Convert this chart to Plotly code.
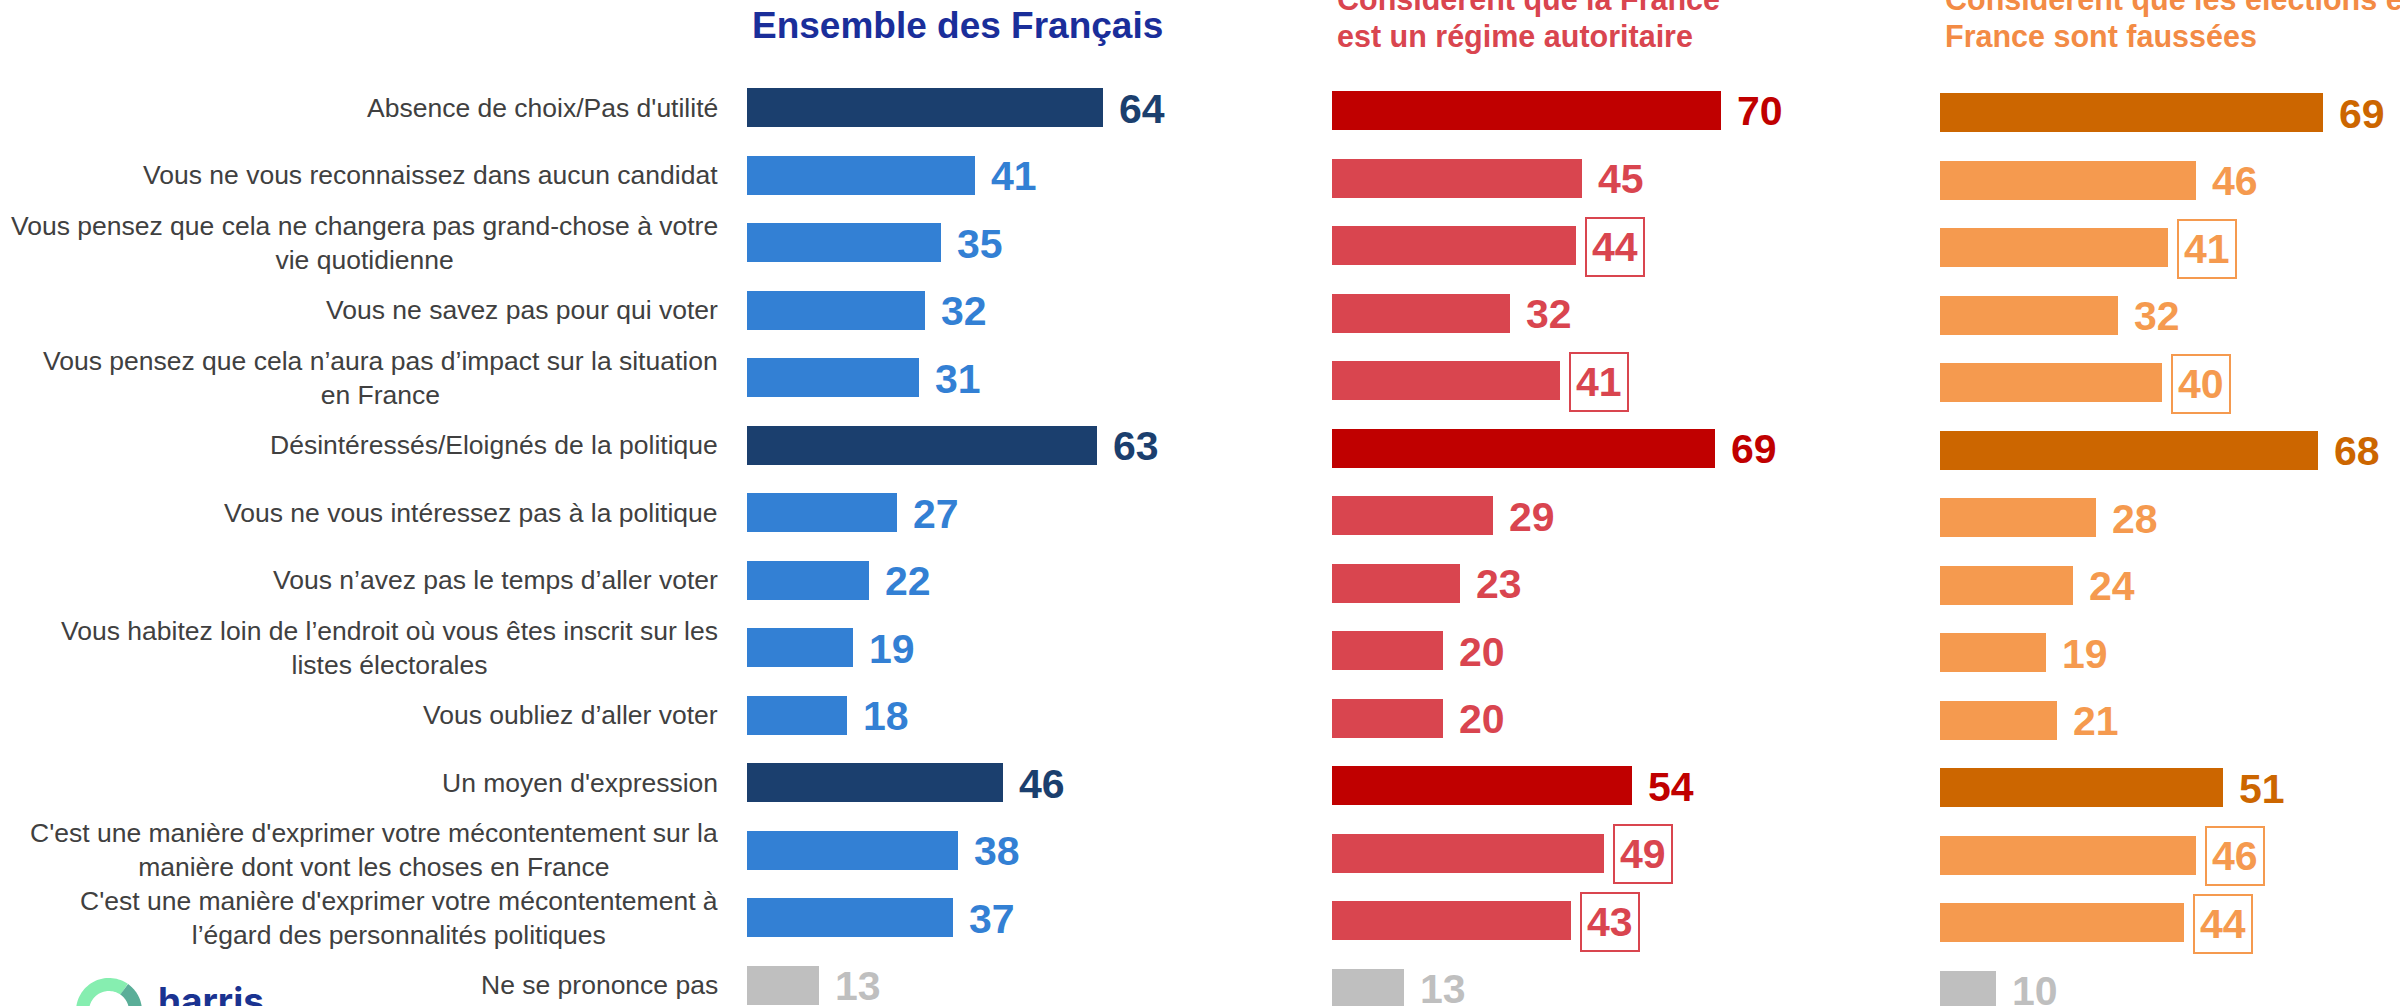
import math
import plotly.graph_objects as go

W, H = 2400, 1006
FONT = "Arial, Liberation Sans, sans-serif"

# rows of the chart, top to bottom
categories = [
    "Absence de choix/Pas d'utilité",
    "Vous ne vous reconnaissez dans aucun candidat",
    "Vous pensez que cela ne changera pas grand-chose à votre<br>vie quotidienne",
    "Vous ne savez pas pour qui voter",
    "Vous pensez que cela n’aura pas d’impact sur la situation<br>en France",
    "Désintéressés/Eloignés de la politique",
    "Vous ne vous intéressez pas à la politique",
    "Vous n’avez pas le temps d’aller voter",
    "Vous habitez loin de l’endroit où vous êtes inscrit sur les<br>listes électorales",
    "Vous oubliez d’aller voter",
    "Un moyen d'expression",
    "C'est une manière d'exprimer votre mécontentement sur la<br>manière dont vont les choses en France",
    "C'est une manière d'exprimer votre mécontentement à<br>l’égard des personnalités politiques",
    "Ne se prononce pas",
]

ensemble = [64, 41, 35, 32, 31, 63, 27, 22, 19, 18, 46, 38, 37, 13]
autoritaire = [70, 45, 44, 32, 41, 69, 29, 23, 20, 20, 54, 49, 43, 13]
faussees = [69, 46, 41, 32, 40, 68, 28, 24, 19, 21, 51, 46, 44, 10]

# summary rows (dark bars), "ne se prononce pas" row, significant differences (boxed)
summary_rows = [0, 5, 10]
nsp_row = 13
boxed_autoritaire = [2, 4, 11, 12]
boxed_faussees = [2, 4, 11, 12]

ROW = 67.5          # pixel distance between rows
PX_PER_UNIT = 5.556
X_MAX = 75
GRAY = "#bfbfbf"
LABEL_SIZE = 26.5

panels = [
    dict(values=ensemble, dark="#1b3f6e", light="#3380d4", boxed=[],
         x0=747, y0=107.5, title=["Ensemble des Français"], title_color="#1a2e9a"),
    dict(values=autoritaire, dark="#c00000", light="#d9454f", boxed=boxed_autoritaire,
         x0=1332, y0=110.5,
         title=["Considèrent que la France", "est un régime autoritaire"], title_color="#d9454f"),
    dict(values=faussees, dark="#cc6600", light="#f59a4f", boxed=boxed_faussees,
         x0=1940, y0=112.8,
         title=["Considèrent que les élections en", "France sont faussées"], title_color="#f38b45"),
]

fig = go.Figure()
annotations = []

for i, p in enumerate(panels, start=1):
    xa = "x" if i == 1 else "x%d" % i
    ya = "y" if i == 1 else "y%d" % i
    colors = []
    for k in range(len(categories)):
        if k == nsp_row:
            colors.append(GRAY)
        elif k in summary_rows:
            colors.append(p["dark"])
        else:
            colors.append(p["light"])

    fig.add_trace(go.Bar(
        x=p["values"], y=categories, orientation="h",
        marker=dict(color=colors, line=dict(width=0)),
        width=0.58, xaxis=xa, yaxis=ya, showlegend=False, hoverinfo="x+y",
    ))

    top_px = p["y0"] - ROW / 2
    x_dom = [p["x0"] / W, (p["x0"] + X_MAX * PX_PER_UNIT) / W]
    y_dom = [0, 1 - top_px / H]
    y_range = [-0.5 + (H - top_px) / ROW, -0.5]
    axis_x = dict(domain=x_dom, range=[0, X_MAX], visible=False, fixedrange=True)
    axis_y = dict(domain=y_dom, range=y_range, type="category", categoryarray=categories,
                  visible=False, fixedrange=True)
    if i == 1:
        fig.update_layout(xaxis=axis_x, yaxis=axis_y)
    else:
        axis_y["anchor"] = xa
        axis_x["anchor"] = ya
        fig.update_layout(**{"xaxis%d" % i: axis_x, "yaxis%d" % i: axis_y})

    # value labels
    for k, (cat, v) in enumerate(zip(categories, p["values"])):
        boxed = k in p["boxed"]
        annotations.append(dict(
            xref=xa, yref=ya, x=v, y=cat, text=str(v), showarrow=False,
            xanchor="left", yanchor="middle", xshift=9, yshift=-1,
            font=dict(family=FONT, size=41, color=colors[k], weight="bold"),
            bordercolor=colors[k] if boxed else "rgba(0,0,0,0)",
            borderwidth=2, borderpad=5, bgcolor="white" if boxed else None,
        ))

    # panel header
    n = len(p["title"])
    for j, line in enumerate(p["title"]):
        if n == 1:
            base, size = 39, 37
        else:
            base, size = 47 - 37 * (n - 1 - j), 30.5
        annotations.append(dict(
            xref="paper", yref="paper", x=(p["x0"] + 3) / W, y=1 - (base - 0.36 * size) / H,
            text=line, showarrow=False, xanchor="left", yanchor="middle",
            font=dict(family=FONT, size=size, color=p["title_color"], weight="bold"),
        ))

# category labels on the left
for cat in categories:
    annotations.append(dict(
        xref="paper", yref="y", x=720 / W, y=cat, text=cat, showarrow=False,
        xanchor="right", yanchor="middle", align="center",
        font=dict(family=FONT, size=LABEL_SIZE, color="#404040"),
    ))

# harris logo (cut by the bottom edge)
annotations.append(dict(
    xref="paper", yref="paper", x=156 / W, y=1 - 976 / H, text="harris", showarrow=False,
    xanchor="left", yanchor="top",
    font=dict(family="Inter, Noto Sans, sans-serif", size=37, color="#1a3391", weight="bold"),
))


def ring(cx, cy, r, a0, a1, steps=40):
    pts = []
    for s in range(steps + 1):
        a = math.radians(a0 + (a1 - a0) * s / steps)
        pts.append(((cx + r * math.cos(a)) / W, 1 - (cy - r * math.sin(a)) / H))
    return "M" + " L".join("%.5f,%.5f" % pt for pt in pts)


shapes = [
    dict(type="path", xref="paper", yref="paper", path=ring(109, 1011, 26.5, 200, 55),
         line=dict(color="#86eeb0", width=13)),
    dict(type="path", xref="paper", yref="paper", path=ring(109, 1011, 26.5, 55, -20),
         line=dict(color="#5aae98", width=13)),
]

fig.update_layout(
    width=W, height=H,
    margin=dict(l=0, r=0, t=0, b=0),
    paper_bgcolor="white", plot_bgcolor="white",
    annotations=annotations, shapes=shapes,
    bargap=0, barmode="overlay",
)

fig.write_html("out.html", config={"displayModeBar": False},
               post_script="document.body.style.margin='0';")
